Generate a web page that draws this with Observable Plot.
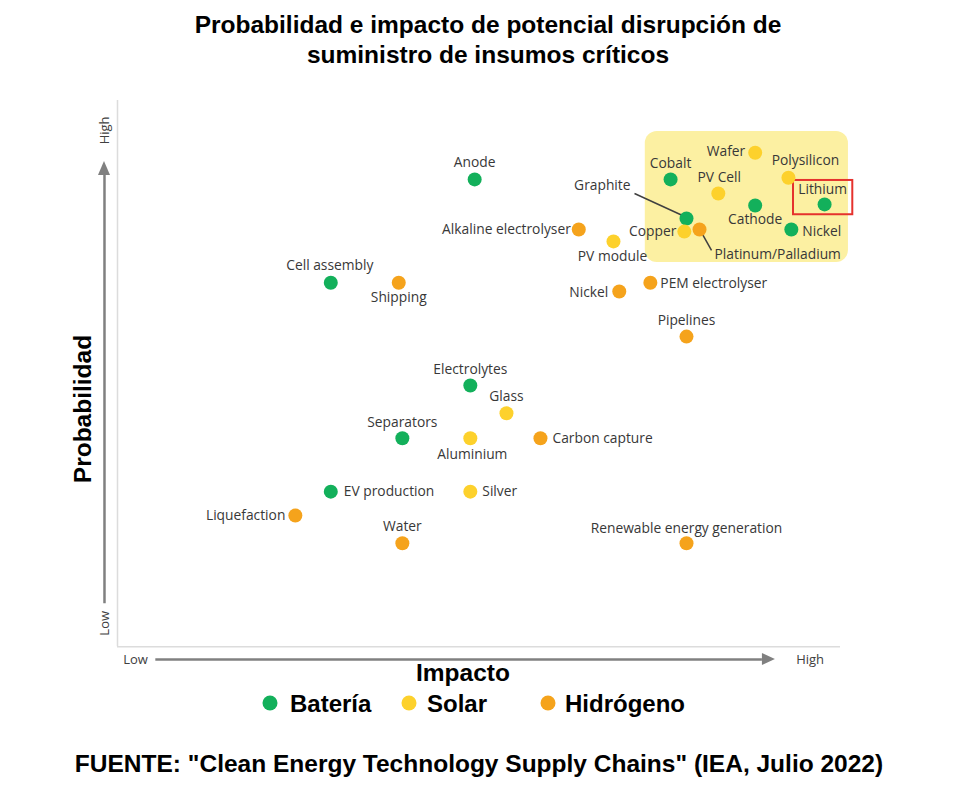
<!DOCTYPE html>
<html><head><meta charset="utf-8">
<script src="https://cdn.jsdelivr.net/npm/d3@7"></script>
<script src="https://cdn.jsdelivr.net/npm/@observablehq/plot@0.6"></script>
<style>
body{margin:0;background:#fff;font-family:"Liberation Sans",Arial,sans-serif;}
#wrap{position:relative;width:980px;height:796px;overflow:hidden;}
#title{position:absolute;left:0;top:10px;width:976px;text-align:center;font-weight:bold;font-size:24.5px;line-height:30px;color:#000;}
#chart{position:absolute;left:0;top:90px;}
#ylab{position:absolute;left:83px;top:409px;transform:translate(-50%,-50%) rotate(-90deg);font-weight:bold;font-size:24.5px;white-space:nowrap;}
#xlab{position:absolute;left:463px;top:673px;transform:translate(-50%,-50%);font-weight:bold;font-size:24.5px;white-space:nowrap;}
.leg{position:absolute;top:704px;transform:translateY(-50%);font-weight:bold;font-size:24px;white-space:nowrap;}
.legdot{position:absolute;top:703px;width:15px;height:15px;border-radius:50%;transform:translate(-50%,-50%);}
#caption{position:absolute;left:0;top:764px;width:958px;text-align:center;transform:translateY(-50%);font-weight:bold;font-size:24.5px;white-space:nowrap;}
</style></head><body>
<div id="wrap">
<div id="title">Probabilidad e impacto de potencial disrupción de<br>suministro de insumos críticos</div>
<div id="chart"></div>
<div id="ylab">Probabilidad</div>
<div id="xlab">Impacto</div>
<div id="legend"></div>
<div id="caption">FUENTE: "Clean Energy Technology Supply Chains" (IEA, Julio 2022)</div>
</div>
<script>
// ---- data ----
const names = ["Anode","Cobalt","Graphite","Cathode","Lithium","Nickel","Cell assembly","Electrolytes","Separators","EV production",
  "Wafer","Polysilicon","PV Cell","Copper","PV module","Glass","Aluminium","Silver",
  "Platinum/Palladium","Alkaline electrolyser","Shipping","PEM electrolyser","Nickel","Pipelines","Carbon capture","Liquefaction","Water","Renewable energy generation"];
const groups = ["Batería","Batería","Batería","Batería","Batería","Batería","Batería","Batería","Batería","Batería",
  "Solar","Solar","Solar","Solar","Solar","Solar","Solar","Solar",
  "Hidrógeno","Hidrógeno","Hidrógeno","Hidrógeno","Hidrógeno","Hidrógeno","Hidrógeno","Hidrógeno","Hidrógeno","Hidrógeno"];
const impact = [49.4,76.5,78.7,88.2,97.8,93.2,29.5,48.8,39.4,29.5,
  88.2,92.8,83.1,78.4,68.6,53.8,48.8,48.8,
  80.5,63.8,38.9,73.7,69.4,78.7,58.5,24.6,39.4,78.7];
const probability = [85.5,85.5,78.3,80.7,80.9,76.3,66.5,47.6,37.9,28.1,
  90.4,85.8,82.9,75.9,74.1,42.5,37.9,28.1,
  76.3,76.3,66.5,66.5,64.9,56.6,37.9,23.7,18.6,18.6];
const seriesNames = ["Batería","Solar","Hidrógeno"];
const seriesColors = ["#13b05b","#fdd12c","#f5a31c"];
const axisTickLabels = ["Low","High"];

// ---- layout (pixel offsets of labels relative to their dots) ----
const labelLayout = [
  [0,-17,"middle"],[0,-16,"middle"],[-56,-33,"end"],[0,14,"middle"],[-2,-15,"middle"],[11,2,"start"],[-1,-17,"middle"],[0,-16,"middle"],[0,-16,"middle"],[13,0,"start"],
  [-10,-1,"end"],[17,-17,"middle"],[1,-16,"middle"],[-8,0,"end"],[-1,15,"middle"],[0,-17,"middle"],[2,16,"middle"],[12,0,"start"],
  [15,25,"start"],[-8,0,"end"],[0,15,"middle"],[10,1,"start"],[-11,1,"end"],[0,-16,"middle"],[12,0,"start"],[-10,0,"end"],[0,-17,"middle"],[0,-15,"middle"]
];
const leaders = [ {i:2, from:[-52,-25], to:[-4,-3]}, {i:18, from:[3,5], to:[12,21]} ];

const W = 980, H = 600, mL = 117, mR = 140, mT = 10, mB = 46;
const kx = 100 / (W - mL - mR), ky = 100 / (H - mT - mB);

const pts = names.map((n, i) => ({name: n, group: groups[i], x: impact[i], y: probability[i]}));
const leaderData = leaders.map(l => ({
  x1: impact[l.i] + l.from[0]*kx, y1: probability[l.i] - l.from[1]*ky,
  x2: impact[l.i] + l.to[0]*kx, y2: probability[l.i] - l.to[1]*ky}));

// highlight boxes (data units)
const highlight = [{x1:73.0, x2:101.1, y1:70.2, y2:94.3}];
const lithiumBox = [{x1:93.5, x2:101.7, y1:79.0, y2:85.3}];

// axis arrows (data units)
const vArrow = {x:-1.8, yStart:7.5, yBase:86.2, yTip:88.8, half:6*kx};
const hArrow = {y:-2.76, xStart:5.3, xBase:89.2, xTip:91.0, half:6*ky};

const gray = "#808080";
const labelFont = "'Open Sans', Lato, sans-serif";
const chart = Plot.plot({
  width: W, height: H,
  marginLeft: mL, marginRight: mR, marginTop: mT, marginBottom: mB,
  x: {domain:[0,100], axis:null},
  y: {domain:[0,100], axis:null},
  color: {domain: seriesNames, range: seriesColors},
  style: {fontFamily: labelFont, background: "white"},
  marks: [
    Plot.rect(highlight, {x1:"x1", x2:"x2", y1:"y1", y2:"y2", fill:"#fcf0a2", rx:12}),
    Plot.rect(lithiumBox, {x1:"x1", x2:"x2", y1:"y1", y2:"y2", fill:"none", stroke:"#e5322d", strokeWidth:2}),
    // frame lines
    Plot.ruleX([0], {y1:-0.4, y2:100, stroke:"#dcdcdc", strokeWidth:1.5}),
    Plot.ruleY([-0.4], {x1:0, x2:100, stroke:"#dcdcdc", strokeWidth:1.5}),
    // vertical arrow
    Plot.ruleX([vArrow.x], {y1:vArrow.yStart, y2:vArrow.yBase, stroke:gray, strokeWidth:2.5}),
    Plot.areaX([{y:vArrow.yBase, x1:vArrow.x-vArrow.half, x2:vArrow.x+vArrow.half},{y:vArrow.yTip, x1:vArrow.x, x2:vArrow.x}],
      {y:"y", x1:"x1", x2:"x2", fill:gray}),
    // horizontal arrow
    Plot.ruleY([hArrow.y], {x1:hArrow.xStart, x2:hArrow.xBase, stroke:gray, strokeWidth:2.5}),
    Plot.areaY([{x:hArrow.xBase, y1:hArrow.y-hArrow.half, y2:hArrow.y+hArrow.half},{x:hArrow.xTip, y1:hArrow.y, y2:hArrow.y}],
      {x:"x", y1:"y1", y2:"y2", fill:gray}),
    // Low / High labels
    Plot.text(axisTickLabels, {x:[2.5, 95.8], y:[hArrow.y, hArrow.y], text:d=>d, fontSize:13, fill:"#404040"}),
    Plot.text(axisTickLabels, {x:[vArrow.x, vArrow.x], y:[3.9, 94.5], text:d=>d, rotate:-90, fontSize:13, fill:"#404040"}),
    // leaders
    Plot.link(leaderData, {x1:"x1", y1:"y1", x2:"x2", y2:"y2", stroke:"#404040", strokeWidth:1.5}),
    // dots
    Plot.dot(pts, {x:"x", y:"y", fill:"group", r:7}),
    // labels, each with its own offset
    ...pts.map((p, i) => Plot.text([p], {
      x:"x", y:"y", text:"name", textAnchor:labelLayout[i][2],
      dx:labelLayout[i][0], dy:labelLayout[i][1], fontSize:13.8, fill:"#383838"
    }))
  ]
});
document.getElementById("chart").appendChild(chart);

// legend
const legX = [[270,290],[409,427],[548,565]];
const legend = document.getElementById("legend");
seriesNames.forEach((s, i) => {
  const dot = document.createElement("div");
  dot.className = "legdot"; dot.style.left = legX[i][0] + "px"; dot.style.background = seriesColors[i];
  const t = document.createElement("div");
  t.className = "leg"; t.style.left = legX[i][1] + "px"; t.textContent = s;
  legend.appendChild(dot); legend.appendChild(t);
});
</script>
</body></html>
